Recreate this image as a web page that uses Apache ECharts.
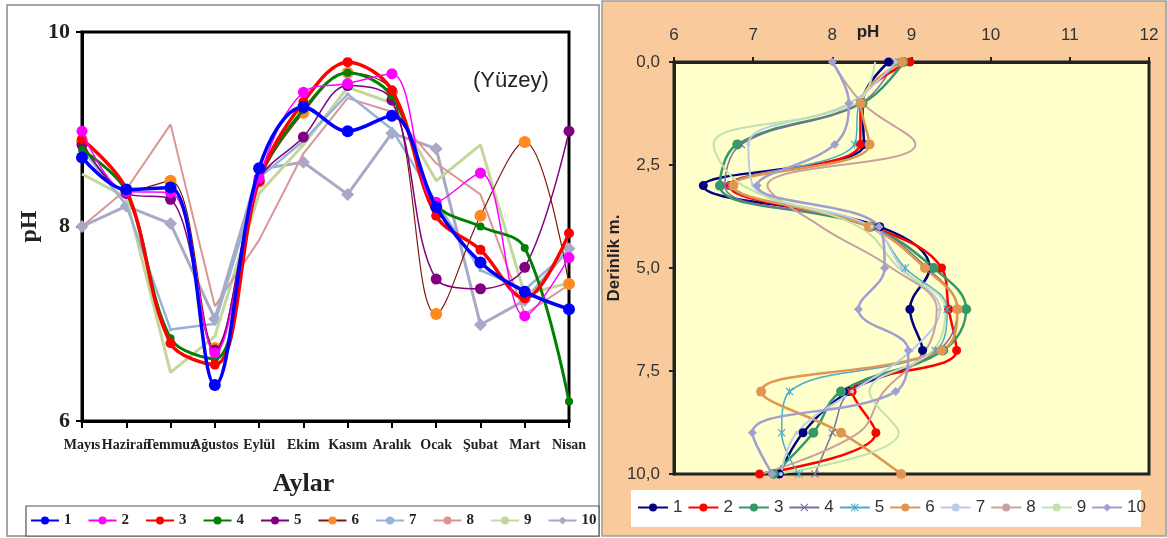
<!DOCTYPE html>
<html><head><meta charset="utf-8">
<script src="https://cdn.jsdelivr.net/npm/echarts@6.0.0/dist/echarts.min.js"></script>
<style>html,body{margin:0;padding:0;background:#fff}#c{width:1167px;height:538px}</style>
</head><body><div id="c"></div>
<script>
// ---- data ----
const months = ['Mayıs','Haziran','Temmuz','Ağustos','Eylül','Ekim','Kasım','Aralık','Ocak','Şubat','Mart','Nisan'];
const depths = [0,1,2,3,4,5,6,7,8,9,10];
const seriesNames = ['1','2','3','4','5','6','7','8','9','10'];
const s1  = [8.71, 8.38, 8.40, 6.37, 8.60, 9.23, 8.98, 9.14, 8.20, 7.63, 7.33, 7.15];
const s2  = [8.98, 8.36, 8.35, 6.70, 8.50, 9.38, 9.47, 9.57, 8.25, 8.55, 7.08, 7.68];
const s3  = [8.90, 8.38, 6.80, 6.58, 8.48, 9.28, 9.69, 9.40, 8.11, 7.76, 7.26, 7.93];
const s4  = [8.79, 8.36, 6.85, 6.64, 8.48, 9.20, 9.58, 9.34, 8.23, 8.00, 7.78, 6.20];
const s5  = [8.84, 8.34, 8.28, 6.73, 8.47, 8.92, 9.45, 9.30, 7.46, 7.36, 7.58, 8.98];
const s6  = [8.88, 8.36, 8.47, 6.75, 8.46, 9.17, 9.58, 9.38, 7.10, 8.11, 8.87, 7.41];
const s7  = [8.80, 8.22, 6.94, 7.00, 8.50, 8.88, 9.36, 9.00, 8.25, 7.55, 7.35, 7.75];
const s8  = [8.00, 8.38, 9.05, 7.18, 7.86, 8.75, 9.32, 9.18, 8.65, 8.33, 7.10, 7.40];
const s9  = [8.54, 8.30, 6.50, 6.87, 8.34, 8.84, 9.43, 9.27, 8.47, 8.84, 7.30, 7.42];
const s10 = [8.00, 8.21, 8.03, 7.05, 8.59, 8.66, 8.33, 8.96, 8.80, 6.99, 7.24, 7.77];
const allSeries = [s1,s2,s3,s4,s5,s6,s7,s8,s9,s10];

// ---- styles ----
const X_PATH = 'path://M0,1L1,0L5,4L9,0L10,1L6,5L10,9L9,10L5,6L1,10L0,9L4,5Z';
const STAR_PATH = 'path://M0,1L1,0L5,4L9,0L10,1L6,5L10,9L9,10L5,6L1,10L0,9L4,5ZM4.4,0L5.6,0L5.6,10L4.4,10Z';
const leftStyle = [
  {c:'#0000FF', lc:'#0000FF', w:3.5, sym:'circle', sz:12, sm:0.35},
  {c:'#FF00FF', lc:'#FF00FF', w:1.5, sym:'circle', sz:11, sm:0.35},
  {c:'#FF0000', lc:'#FF0000', w:3.5, sym:'circle', sz:10, sm:0.35},
  {c:'#008000', lc:'#008000', w:3, sym:'circle', sz:8, sm:0.35},
  {c:'#800080', lc:'#800080', w:1.5, sym:'circle', sz:11, sm:0.35},
  {c:'#FF8A1F', lc:'#7A1A0A', w:1.2, sym:'circle', sz:12, sm:0.35},
  {c:'#95B3D7', lc:'#95B3D7', w:2.5, sym:'circle', sz:4, sm:0},
  {c:'#D99694', lc:'#D99694', w:2, sym:'none', sz:4, sm:0},
  {c:'#C3D69B', lc:'#C3D69B', w:3, sym:'none', sz:4, sm:0},
  {c:'#A9A8C6', lc:'#A9A8C6', w:3, sym:'diamond', sz:13, sm:0}
];
const rightStyle = [
  {c:'#000080', w:2.5, sym:'circle', sz:9},
  {c:'#FF0000', w:2.5, sym:'circle', sz:9},
  {c:'#339966', w:2.5, sym:'circle', sz:10},
  {c:'#7A6E9E', w:1.5, sym:X_PATH, sz:8},
  {c:'#4BACC6', w:1.5, sym:STAR_PATH, sz:8},
  {c:'#E0964F', w:2.5, sym:'circle', sz:10},
  {c:'#B9CDE5', w:2, sym:'circle', sz:4},
  {c:'#C8A2A0', w:2, sym:'none', sz:4},
  {c:'#C3E0B0', w:2, sym:'none', sz:4},
  {c:'#A09FD0', w:2.5, sym:'diamond', sz:9}
];

const series = [];
allSeries.forEach((arr, i) => {
  const st = leftStyle[i];
  series.push({
    type:'line', name: seriesNames[i], xAxisIndex:0, yAxisIndex:0,
    data: arr, smooth: st.sm, symbol: st.sym, symbolSize: st.sz, showSymbol: st.sym !== 'none',
    itemStyle:{color: st.c}, lineStyle:{color: st.lc, width: st.w}, z: 2 + (9 - i) * 0.1
  });
});
allSeries.forEach((arr, i) => {
  const st = rightStyle[i];
  series.push({
    type:'line', name: 'D' + seriesNames[i], xAxisIndex:1, yAxisIndex:1,
    data: depths.map((d, k) => [arr[k], d]), smooth: 0.4,
    symbol: st.sym, symbolSize: st.sz, showSymbol: st.sym !== 'none',
    itemStyle:{color: st.c}, lineStyle:{color: st.c, width: st.w}
  });
});

const serif = 'Liberation Serif, Times New Roman, serif';
const sans = 'Liberation Sans, Arial, sans-serif';

const option = {
  animation: false,
  backgroundColor: '#ffffff',
  graphic: [
    {type:'rect', z:-10, shape:{x:7, y:5, width:592, height:531}, style:{fill:'#fff', stroke:'#8a8a8a', lineWidth:1.5}},
    {type:'rect', z:-9, shape:{x:26, y:506, width:573, height:30}, style:{fill:'#fff', stroke:'#555', lineWidth:1.2}},
    {type:'rect', z:-10, shape:{x:602, y:1, width:564, height:535}, style:{fill:'#F9CB9C', stroke:'#9a9a9a', lineWidth:1.5}},
    {type:'rect', z:-9, shape:{x:631, y:490, width:510, height:37}, style:{fill:'#fff'}},
    {type:'text', z:5, left:473, top:70, style:{text:'(Yüzey)', font:'22px ' + sans, fill:'#222'}}
  ],
  grid: [
    {left:82, top:32, width:487, height:389, show:true, backgroundColor:'#fff', borderColor:'#000', borderWidth:3},
    {left:674, top:62, width:475, height:412, show:true, backgroundColor:'#FFFFCC', borderColor:'#222', borderWidth:3}
  ],
  legend: [
    {data: seriesNames, left:30, top:513, itemWidth:28, itemHeight:10, itemGap:16, padding:0, selectedMode:false,
     textStyle:{fontFamily:serif, fontWeight:'bold', fontSize:15, color:'#222'}},
    {data: seriesNames.map(n => 'D' + n), formatter: n => n.slice(1), left:637, top:499, itemWidth:30, itemHeight:10, itemGap:5, padding:0, selectedMode:false,
     textStyle:{fontFamily:sans, fontSize:17, color:'#333'}}
  ],
  xAxis: [
    {gridIndex:0, type:'category', data: months, boundaryGap:false,
     axisLine:{show:true, lineStyle:{color:'#000', width:3}},
     axisTick:{show:true, length:7, lineStyle:{color:'#000', width:2}},
     axisLabel:{interval:0, fontFamily:serif, fontWeight:'bold', fontSize:14, color:'#222', margin:17},
     splitLine:{show:false},
     name:'Aylar', nameLocation:'middle', nameGap:50,
     nameTextStyle:{fontFamily:serif, fontWeight:'bold', fontSize:26, color:'#222', padding:[0,44,0,0]}},
    {gridIndex:1, type:'value', position:'top', min:6, max:12, interval:1,
     axisLine:{show:true, lineStyle:{color:'#222', width:3}},
     axisTick:{show:true, length:5, lineStyle:{color:'#222', width:2}},
     axisLabel:{fontFamily:sans, fontSize:17, color:'#333', margin:18},
     splitLine:{show:false},
     name:'pH', nameLocation:'middle', nameGap:21, nameMoveOverlap:false,
     nameTextStyle:{fontFamily:sans, fontWeight:'bold', fontSize:17, color:'#222', padding:[0,87,0,0]}}
  ],
  yAxis: [
    {gridIndex:0, type:'value', min:6, max:10, interval:2,
     axisLine:{show:true, lineStyle:{color:'#000', width:3}},
     axisTick:{show:true, length:6, lineStyle:{color:'#000', width:2}},
     axisLabel:{fontFamily:serif, fontWeight:'bold', fontSize:22, color:'#222', margin:12},
     splitLine:{show:false},
     name:'pH', nameLocation:'middle', nameGap:40, nameRotate:90,
     nameTextStyle:{fontFamily:serif, fontWeight:'bold', fontSize:24, color:'#222'}},
    {gridIndex:1, type:'value', inverse:true, min:0, max:10, interval:2.5,
     axisLine:{show:true, lineStyle:{color:'#222', width:3}},
     axisTick:{show:true, length:5, lineStyle:{color:'#222', width:2}},
     axisLabel:{fontFamily:sans, fontSize:17, color:'#333', margin:14,
       formatter: v => v.toFixed(1).replace('.', ',')},
     splitLine:{show:false},
     name:'Derinlik m.', nameLocation:'middle', nameGap:46, nameRotate:90,
     nameTextStyle:{fontFamily:sans, fontWeight:'bold', fontSize:17, color:'#222', padding:[0,0,0,20]}}
  ],
  series: series
};
const chart = echarts.init(document.getElementById('c'), null, {renderer:'canvas'});
chart.setOption(option);
</script>
</body></html>
